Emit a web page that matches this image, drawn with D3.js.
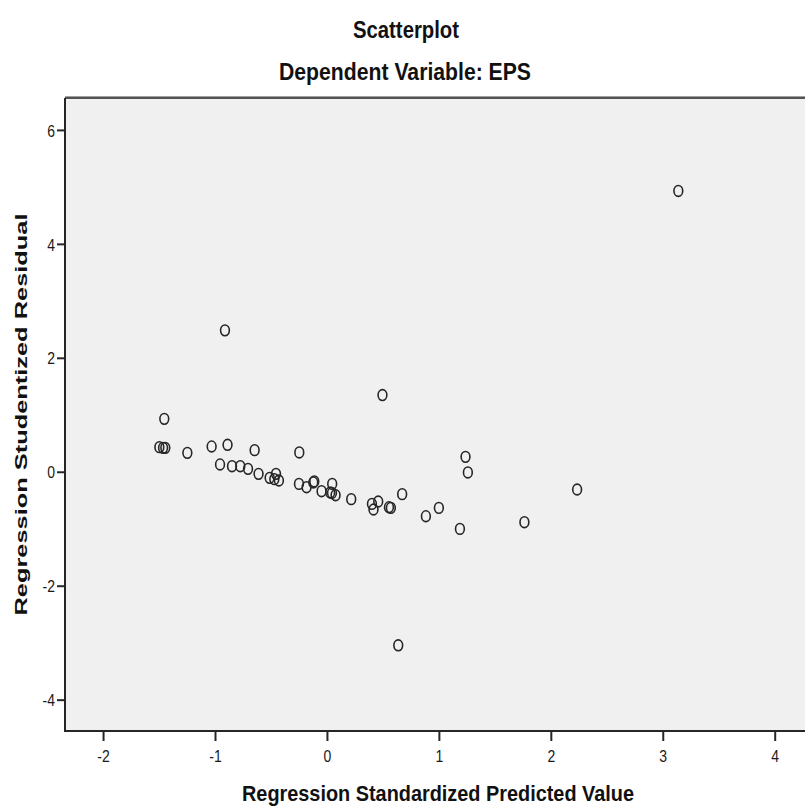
<!DOCTYPE html>
<html>
<head>
<meta charset="utf-8">
<script src="https://cdn.jsdelivr.net/npm/d3@7"></script>
<style>
  html, body { margin: 0; padding: 0; background: #ffffff; }
  svg { display: block; }
  text { font-family: "Liberation Sans", Arial, sans-serif; }
</style>
</head>
<body>
<svg id="chart" width="805" height="808"></svg>
<script>
// ---- data ----
const predicted = [
  -0.911, 0.496, -1.453, -1.497, -1.464, -1.444, -1.247, -1.030, -0.888, -0.646,
  -0.247, -0.955, -0.848, -0.774, -0.705, -0.611, -0.512, -0.455, -0.470, -0.429,
  -0.250, -0.182, -0.113, -0.122, -0.048, 0.047, 0.029, 0.045, 0.077, 0.217,
  0.402, 0.458, 0.416, 0.554, 0.571, 0.672, 0.884, 0.637, 1.000, 1.188,
  1.238, 1.259, 1.764, 2.235, 3.139
];
const residual = [
  2.482, 1.346, 0.929, 0.432, 0.420, 0.420, 0.332, 0.444, 0.473, 0.379,
  0.339, 0.128, 0.098, 0.098, 0.051, -0.037, -0.107, -0.037, -0.130, -0.153,
  -0.213, -0.271, -0.170, -0.188, -0.341, -0.213, -0.364, -0.372, -0.411, -0.481,
  -0.564, -0.522, -0.662, -0.622, -0.634, -0.393, -0.780, -3.046, -0.634, -1.003,
  0.262, -0.012, -0.885, -0.311, 4.929
];
const xTicks = [-2, -1, 0, 1, 2, 3, 4];
const yTicks = [-4, -2, 0, 2, 4, 6];
const title = "Scatterplot";
const subtitle = "Dependent Variable: EPS";
const xLabel = "Regression Standardized Predicted Value";
const yLabel = "Regression Studentized Residual";

// ---- layout ----
const svg = d3.select("#chart");
const plot = { left: 65, top: 98, right: 815, bottom: 731 };
const stretch = 1.22; // the reference is vertically stretched

const x = d3.scaleLinear().domain([-2.34, 4.36]).range([plot.left, plot.right]);
const y = d3.scaleLinear().domain([-4.55, 6.56]).range([plot.bottom, plot.top]);
const fmt = d => String(d); // plain hyphen minus like the reference

// plot background
svg.append("rect")
  .attr("x", plot.left).attr("y", plot.top)
  .attr("width", plot.right - plot.left).attr("height", plot.bottom - plot.top)
  .attr("fill", "#f0f0f0");

// points
svg.append("g")
  .selectAll("ellipse")
  .data(predicted.map((p, i) => ({ p, r: residual[i] })))
  .join("ellipse")
  .attr("cx", d => x(d.p))
  .attr("cy", d => y(d.r))
  .attr("rx", 4.4)
  .attr("ry", 5.4)
  .attr("fill", "none")
  .attr("stroke", "#262626")
  .attr("stroke-width", 1.6);

// top frame line
svg.append("line")
  .attr("x1", plot.left).attr("x2", plot.right + 10)
  .attr("y1", plot.top - 0.5).attr("y2", plot.top - 0.5)
  .attr("stroke", "#a0a0a0").attr("stroke-width", 3);
svg.append("line")
  .attr("x1", plot.left).attr("x2", plot.right + 10)
  .attr("y1", plot.top).attr("y2", plot.top)
  .attr("stroke", "#3a3a3a").attr("stroke-width", 1.5);

// axes
const xAxis = svg.append("g")
  .attr("transform", `translate(0,${plot.bottom})`)
  .call(d3.axisBottom(x).tickValues(xTicks).tickSize(10).tickSizeOuter(0).tickFormat(fmt));
const yAxis = svg.append("g")
  .attr("transform", `translate(${plot.left},0)`)
  .call(d3.axisLeft(y).tickValues(yTicks).tickSize(8).tickSizeOuter(0).tickFormat(fmt));

[xAxis, yAxis].forEach(a => {
  a.select(".domain").attr("stroke", "#262626").attr("stroke-width", 2);
  a.selectAll(".tick line").attr("stroke", "#262626").attr("stroke-width", 2);
  a.selectAll(".tick text")
    .attr("fill", "#1a1a1a")
    .style("font-family", "'Liberation Sans', Arial, sans-serif")
    .style("font-size", "14px");
});
xAxis.select(".domain").attr("d", `M${plot.left - 1},0H${plot.right + 10}`);
yAxis.select(".domain").attr("d", `M0,${plot.top}V${plot.bottom + 1}`);
xAxis.selectAll(".tick text")
  .attr("y", 19 / stretch).attr("dy", "0.72em")
  .attr("transform", `scale(1,${stretch})`);
yAxis.selectAll(".tick text")
  .attr("x", -10).attr("dy", "0.36em")
  .attr("transform", `scale(1,${stretch})`);

// horizontal titles (vertically stretched like the reference)
function hText(str, cx, baseline, size, len) {
  svg.append("text")
    .attr("transform", `translate(${cx},${baseline}) scale(1,${stretch})`)
    .attr("text-anchor", "middle")
    .style("font-size", size + "px").style("font-weight", "bold")
    .attr("textLength", len).attr("lengthAdjust", "spacingAndGlyphs")
    .attr("fill", "#111")
    .text(str);
}
hText(title, 406, 38, 19, 106);
hText(subtitle, 405, 80, 19, 252);
hText(xLabel, 438, 801, 18, 392);

// vertical axis title
svg.append("text")
  .attr("transform", `translate(27,${(plot.top + plot.bottom) / 2}) rotate(-90)`)
  .attr("text-anchor", "middle")
  .style("font-size", "17px").style("font-weight", "bold")
  .attr("textLength", 402)
  .attr("lengthAdjust", "spacingAndGlyphs")
  .attr("fill", "#111")
  .text(yLabel);
</script>
</body>
</html>
